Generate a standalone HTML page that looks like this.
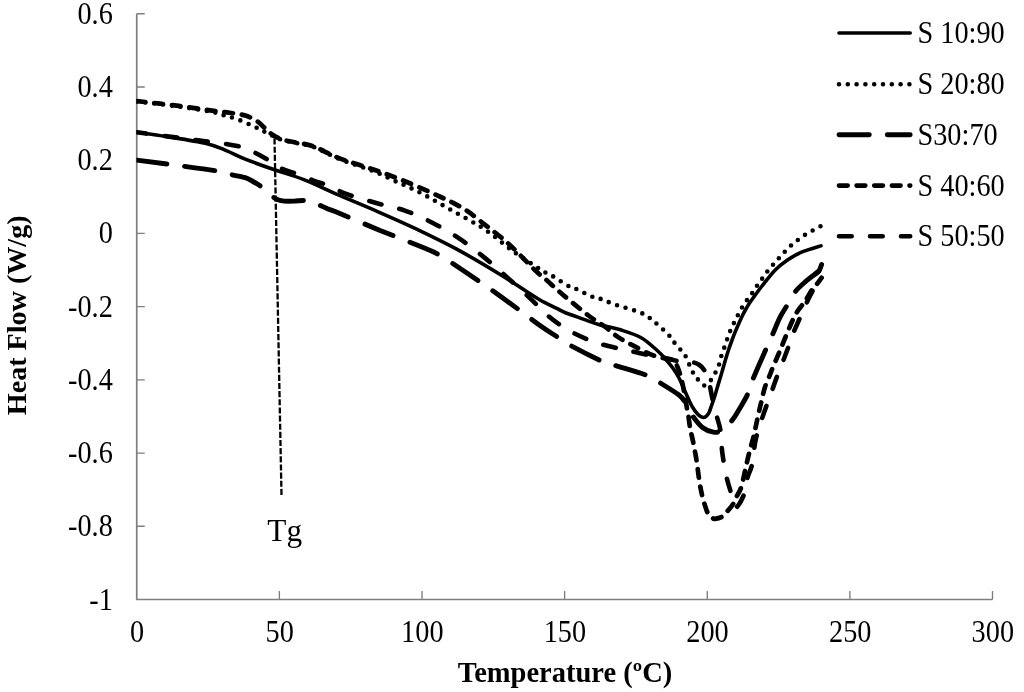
<!DOCTYPE html>
<html lang="en"><head><meta charset="utf-8"><title>DSC thermograms</title>
<style>html,body{margin:0;padding:0;background:#fff}body{width:1024px;height:692px;overflow:hidden}svg{display:block}</style>
</head><body>
<svg width="1024" height="692" viewBox="0 0 1024 692">
<rect width="1024" height="692" fill="#fff"/>
<g stroke="#7f7f7f" fill="none">
<path d="M136.75 13.74V599.5H992.50" stroke-width="1.7"/>
<path d="M136.75 526.28h8M136.75 453.06h8M136.75 379.84h8M136.75 306.62h8M136.75 233.40h8M136.75 160.18h8M136.75 86.96h8M136.75 13.74h8M279.38 599.5v-8.5M422.00 599.5v-8.5M564.62 599.5v-8.5M707.25 599.5v-8.5M849.88 599.5v-8.5M992.50 599.5v-8.5" stroke-width="1.35"/>
</g>
<clipPath id="pa"><rect x="136.4" y="10" width="700" height="589"/></clipPath>
<g fill="none" stroke="#000" stroke-linecap="round" stroke-linejoin="round" clip-path="url(#pa)">
<path id="cB" d="M136.8 101.6C143.2 102.3 162.7 104.3 174.9 106.0C187.1 107.7 201.9 110.0 210.0 111.5C218.1 113.0 218.8 113.8 223.7 115.2C228.6 116.6 234.1 118.0 239.3 120.0C244.5 122.0 250.8 124.9 255.0 126.9C259.2 128.9 261.8 130.3 264.7 131.8C267.6 133.2 269.6 134.3 272.5 135.7C275.4 137.1 278.4 138.8 282.3 140.0C286.2 141.2 290.8 141.8 296.0 143.0C301.2 144.2 306.3 144.4 313.5 147.0C320.7 149.6 328.9 154.7 339.0 158.8C349.1 162.9 365.1 167.9 374.2 171.5C383.3 175.1 387.9 177.8 393.8 180.5C399.6 183.2 404.2 185.0 409.4 187.4C414.6 189.8 419.8 192.4 425.0 195.2C430.2 198.0 435.4 201.1 440.6 204.0C445.8 206.9 451.0 209.9 456.2 212.8C461.5 215.7 466.7 218.5 471.9 221.6C477.1 224.7 480.5 226.3 487.5 231.3C494.5 236.3 505.5 245.7 513.8 251.8C522.0 257.8 532.2 264.1 537.2 267.4C542.2 270.7 541.3 270.2 543.9 271.7C546.5 273.2 548.9 273.9 552.8 276.2C556.7 278.5 563.4 283.3 567.3 285.4C571.2 287.5 572.3 287.1 576.2 288.9C580.2 290.7 586.9 294.5 590.8 296.1C594.7 297.7 595.5 297.1 599.7 298.6C603.9 300.1 609.2 302.5 616.2 304.9C623.2 307.3 635.1 310.2 641.6 313.1C648.1 316.0 650.7 318.8 655.2 322.5C659.8 326.2 665.8 332.0 668.9 335.2C672.0 338.4 671.6 339.2 673.6 341.6C675.6 344.0 678.7 347.5 680.6 349.8C682.5 352.1 683.3 352.0 685.3 355.6C687.2 359.2 690.3 367.5 692.3 371.2C694.2 375.0 695.0 375.9 697.0 378.3C699.0 380.7 701.8 385.0 704.0 385.4C706.2 385.8 708.6 382.7 710.5 380.6C712.4 378.5 713.8 375.6 715.3 372.8C716.8 370.1 718.2 366.9 719.2 364.1C720.2 361.4 720.4 359.0 721.2 356.3C722.0 353.6 723.1 350.9 724.1 348.1C725.1 345.3 726.0 342.5 727.0 339.7C728.0 336.9 728.9 334.3 730.0 331.5C731.1 328.7 732.6 325.8 733.9 323.1C735.2 320.4 736.4 318.0 737.8 315.3C739.2 312.6 740.6 309.9 742.2 307.2C743.8 304.5 745.8 301.8 747.5 299.4C749.2 297.0 750.8 295.2 752.4 292.9C754.0 290.6 755.4 288.2 757.0 285.8C758.6 283.4 760.5 281.0 762.2 278.6C763.9 276.2 764.4 275.1 767.2 271.7C770.0 268.3 775.0 262.4 778.9 258.1C782.8 253.8 786.3 249.8 790.6 245.9C794.9 242.1 799.8 238.2 804.7 235.0C809.7 231.8 817.5 227.9 820.3 226.4C823.1 224.9 821.2 226.0 821.4 225.9" stroke-width="4.6" stroke-dasharray="0 8.8"/>
<path id="cE" d="M136.8 160.1C141.8 160.8 153.8 162.2 167.0 164.0C180.2 165.8 205.2 169.0 215.9 170.8C226.7 172.6 226.6 173.5 231.5 174.7C236.4 175.8 241.6 176.6 245.2 177.7C248.8 178.8 250.4 180.1 253.0 181.5C255.6 182.9 258.5 184.7 260.8 186.4C263.1 188.2 264.9 190.2 267.0 192.0C269.1 193.8 271.7 195.9 273.5 197.2C275.3 198.5 276.2 199.2 278.0 199.8C279.8 200.5 281.6 200.9 284.3 201.1C287.0 201.3 290.6 201.2 294.0 201.1C297.4 201.0 301.8 200.3 304.8 200.5C307.8 200.7 309.6 201.2 312.0 202.0C314.4 202.8 316.7 203.8 319.4 205.0C322.1 206.2 325.4 207.8 328.0 208.9C330.6 210.0 326.5 208.0 335.2 211.6C343.9 215.2 365.1 224.3 380.1 230.4C395.1 236.5 415.1 244.2 425.0 248.3C434.9 252.4 432.5 251.1 439.5 255.2C446.5 259.3 455.8 265.5 466.9 273.0C478.0 280.5 493.7 291.4 505.9 300.2C518.1 308.9 531.4 319.4 540.0 325.5C548.6 331.6 552.4 333.7 557.6 337.1C562.8 340.5 564.1 342.0 571.2 345.9C578.4 349.8 593.2 357.3 600.5 360.6C607.8 363.9 607.6 363.1 615.2 365.5C622.9 367.9 638.9 372.3 646.4 375.2C653.9 378.1 654.9 379.7 660.3 383.0C665.7 386.3 674.5 391.6 678.7 394.8C682.9 398.1 682.9 398.9 685.3 402.5C687.7 406.1 690.2 412.4 693.1 416.6C696.0 420.8 699.1 424.9 702.5 427.5C705.9 430.1 710.4 431.7 713.4 432.2C716.4 432.7 717.5 432.4 720.5 430.6C723.5 428.8 728.1 425.0 731.4 421.2C734.6 417.5 737.3 412.6 740.0 408.0C742.7 403.4 745.6 398.8 747.8 393.9C750.0 388.9 750.2 385.8 753.3 378.3C756.3 370.8 762.8 356.4 766.1 348.9C769.4 341.4 770.8 338.5 773.1 333.3C775.4 328.1 777.4 322.5 779.7 317.8C782.1 313.1 784.5 309.6 787.2 305.2C789.9 300.8 792.6 295.1 795.8 291.1C799.0 287.1 802.7 284.1 806.2 281.0C809.8 277.9 815.0 274.3 817.2 272.5C819.4 270.7 818.8 271.5 819.5 270.2C820.2 268.9 821.2 265.6 821.5 264.7" stroke-width="4.9" stroke-dasharray="30.3 18"/>
<path id="cD" d="M136.8 132.3C141.8 133.0 158.1 135.2 167.0 136.3C175.9 137.5 184.0 138.4 190.0 139.2C196.0 140.0 198.2 140.4 203.2 141.0C208.2 141.6 214.8 142.2 220.0 143.0C225.2 143.8 230.2 144.7 234.4 145.5C238.6 146.3 241.4 146.7 245.0 148.0C248.6 149.3 253.0 151.7 256.0 153.2C259.0 154.7 260.6 155.6 263.0 157.0C265.4 158.4 267.4 159.5 270.6 161.5C273.8 163.5 278.1 166.9 282.3 168.9C286.5 170.9 290.8 171.8 296.0 173.8C301.2 175.7 308.2 178.6 313.5 180.6C318.8 182.6 322.4 183.2 328.0 185.5C333.6 187.8 338.9 191.3 346.9 194.2C354.9 197.1 366.4 200.2 376.2 203.0C386.0 205.8 395.9 207.4 405.5 210.8C415.1 214.2 424.7 218.8 433.8 223.5C442.9 228.2 451.8 233.4 460.2 239.1C468.6 244.8 476.7 251.3 484.5 257.6C492.3 263.9 499.2 270.3 506.9 277.1C514.5 283.9 523.8 292.3 530.4 298.6C537.0 304.9 541.9 310.4 546.8 314.7C551.6 319.0 555.3 321.6 559.5 324.5C563.7 327.4 567.6 329.9 572.2 332.3C576.8 334.7 582.2 337.2 586.9 339.1C591.6 341.1 595.6 342.5 600.5 344.0C605.4 345.5 611.3 346.8 616.2 347.9C621.1 349.0 624.8 349.7 629.8 350.8C634.8 351.9 641.5 353.7 646.4 354.7C651.3 355.7 654.2 355.7 659.1 356.7C664.0 357.7 671.9 359.6 675.7 360.6C679.5 361.6 680.1 362.1 682.0 362.5C683.9 362.9 685.2 363.2 687.0 363.2C688.8 363.2 690.9 362.1 693.0 362.4C695.1 362.7 697.6 363.8 699.4 365.0C701.2 366.2 702.7 367.7 704.0 369.7C705.3 371.7 706.1 374.5 707.0 377.0C707.9 379.5 708.5 380.7 709.5 384.5C710.5 388.3 711.5 394.8 712.7 400.0C713.9 405.2 715.3 410.7 716.6 415.8C717.9 420.9 719.5 424.4 720.5 430.6C721.5 436.8 721.3 445.2 722.3 452.8C723.3 460.4 725.1 470.0 726.4 476.2C727.7 482.5 728.9 485.5 730.3 490.3C731.7 495.1 733.7 502.6 735.0 505.2C736.3 507.8 736.5 507.6 738.1 505.6C739.7 503.6 742.8 498.0 744.4 493.4C746.0 488.8 746.2 482.7 747.5 477.8C748.8 472.9 750.9 470.1 752.2 463.8C753.6 457.4 754.0 447.5 755.6 440.0C757.2 432.5 759.9 425.2 761.9 419.0C763.9 412.8 765.7 408.1 767.5 403.0C769.3 397.9 771.1 393.0 772.8 388.4C774.5 383.8 775.7 379.9 777.5 375.2C779.3 370.5 781.6 364.8 783.5 360.0C785.4 355.2 786.8 351.2 788.6 346.4C790.4 341.5 792.4 335.6 794.2 330.9C796.1 326.2 798.1 322.1 799.7 318.4C801.3 314.7 802.6 311.6 804.0 308.5C805.4 305.4 806.6 302.9 808.0 300.0C809.4 297.1 811.0 293.6 812.5 291.0C814.0 288.4 815.5 286.6 817.0 284.5C818.5 282.4 821.0 279.5 821.8 278.5" stroke-width="4.6" stroke-dasharray="12.7 18.3" stroke-dashoffset="3.0"/>
<path id="cA" d="M136.8 101.1C143.2 101.8 162.7 103.9 174.9 105.4C187.1 106.9 200.9 109.1 210.0 110.3C219.1 111.5 223.7 111.9 229.6 112.8C235.5 113.7 240.6 114.1 245.2 115.5C249.8 116.9 253.6 118.9 256.9 121.0C260.1 123.1 262.1 125.6 264.7 127.9C267.3 130.2 269.6 132.8 272.5 134.7C275.4 136.6 278.4 138.3 282.3 139.6C286.2 140.9 290.8 141.4 296.0 142.5C301.2 143.6 306.3 143.8 313.5 146.4C320.7 149.0 328.9 154.2 339.0 158.1C349.1 162.0 363.1 165.9 374.2 169.8C385.3 173.7 395.1 177.3 405.5 181.5C415.9 185.7 428.8 191.6 436.7 195.2C444.6 198.8 448.0 200.2 453.2 202.9C458.4 205.6 463.1 208.2 468.0 211.5C472.9 214.8 477.9 219.2 482.5 222.8C487.1 226.4 490.8 229.1 495.3 232.8C499.9 236.5 503.1 238.7 509.8 244.9C516.5 251.2 529.2 264.5 535.2 270.3C541.2 276.1 541.4 275.6 545.9 279.5C550.4 283.4 554.9 288.0 562.0 294.0C569.1 300.0 581.3 310.1 588.4 315.5C595.5 320.9 599.5 322.8 604.5 326.4C609.5 330.0 613.2 333.9 618.1 337.1C623.0 340.4 628.5 343.1 633.8 345.9C639.0 348.7 645.2 351.9 649.4 353.8C653.6 355.6 655.8 356.4 658.8 357.2C661.7 358.0 664.5 358.1 667.0 358.7C669.5 359.2 672.2 359.1 674.0 360.5C675.8 361.9 676.4 364.4 677.5 367.0C678.6 369.6 679.7 372.8 680.6 376.0C681.5 379.2 682.2 382.2 683.0 386.0C683.8 389.8 684.6 394.9 685.3 398.6C685.9 402.3 686.4 405.1 686.9 408.0C687.4 410.9 687.9 412.6 688.4 415.8C688.9 419.1 689.5 424.6 690.0 427.5C690.5 430.4 690.6 430.5 691.2 433.3C691.9 436.1 692.7 439.5 693.6 444.2C694.5 448.9 695.8 455.7 696.7 461.4C697.6 467.1 698.1 472.9 699.0 478.6C699.9 484.3 700.8 490.1 702.2 495.8C703.7 501.5 706.0 509.4 707.7 513.0C709.4 516.6 711.1 516.7 712.3 517.7C713.5 518.7 713.1 518.9 714.7 518.8C716.3 518.6 719.6 518.1 721.7 516.9C723.8 515.7 725.2 513.6 727.2 511.4C729.2 509.2 731.8 506.1 733.4 503.6C735.0 501.1 735.3 499.3 736.6 496.6C737.9 493.9 739.8 491.6 741.2 487.2C742.7 482.8 743.9 475.6 745.2 470.0C746.5 464.4 747.6 459.3 749.0 453.6C750.4 447.9 752.4 441.4 753.8 435.6C755.1 429.8 756.2 424.4 757.4 419.0C758.6 413.6 759.7 408.3 761.0 403.0C762.3 397.7 763.5 391.7 765.0 387.0C766.5 382.3 768.8 377.8 770.0 374.7C771.2 371.6 770.9 372.0 772.5 368.2C774.1 364.4 777.2 357.2 779.4 352.0C781.6 346.8 783.3 342.3 785.5 337.0C787.7 331.7 790.8 324.2 792.7 320.0C794.6 315.8 795.5 314.5 797.0 312.0C798.5 309.5 800.5 307.2 802.0 305.2C803.5 303.1 804.3 302.3 806.0 299.7C807.7 297.1 810.4 292.1 812.2 289.5C814.0 286.9 815.3 285.9 816.9 284.0C818.5 282.1 820.8 278.8 821.6 277.8" stroke-width="4.7" stroke-dasharray="8.66 8.97"/>
<path id="cC" d="M136.8 132.3C141.8 133.0 155.4 134.7 167.0 136.6C178.6 138.5 196.3 141.2 206.1 143.5C215.9 145.8 219.2 147.7 225.7 150.3C232.2 152.9 237.1 155.8 245.2 159.1C253.3 162.3 264.7 166.4 274.5 169.8C284.3 173.2 293.1 175.4 303.8 179.6C314.6 183.8 326.6 189.8 339.0 195.2C351.4 200.6 365.1 206.1 378.1 211.8C391.1 217.5 404.2 223.2 417.2 229.4C430.2 235.6 442.8 241.6 456.2 248.9C469.7 256.2 486.6 266.2 498.1 273.2C509.6 280.2 518.5 286.3 525.5 290.8C532.5 295.3 534.8 297.1 540.0 300.0C545.2 302.9 552.5 306.3 556.7 308.4C560.9 310.5 560.5 310.8 565.4 312.7C570.3 314.6 580.5 318.1 586.0 320.1C591.5 322.1 592.6 322.8 598.6 324.5C604.6 326.2 614.8 328.1 622.0 330.3C629.2 332.6 635.7 334.6 641.6 338.0C647.5 341.4 653.3 347.1 657.2 350.5C661.1 353.9 662.4 355.6 665.0 358.5C667.6 361.4 670.5 364.8 672.8 368.0C675.1 371.2 676.9 374.0 679.0 378.0C681.1 382.0 683.2 387.4 685.3 392.0C687.4 396.6 689.5 401.9 691.6 405.6C693.7 409.3 695.8 412.2 697.8 414.2C699.8 416.2 702.0 417.6 703.8 417.5C705.6 417.4 707.2 415.4 708.5 413.5C709.8 411.6 710.4 408.8 711.4 406.0C712.4 403.2 713.5 400.1 714.5 397.0C715.5 393.9 716.3 390.7 717.3 387.5C718.2 384.3 719.2 381.2 720.2 378.0C721.2 374.8 722.1 371.3 723.1 368.0C724.1 364.7 725.0 361.2 726.0 358.0C727.0 354.8 728.0 351.4 729.0 348.5C730.0 345.6 730.9 343.1 731.9 340.5C732.9 337.9 733.7 335.6 734.8 332.9C735.9 330.1 737.3 326.9 738.6 324.0C739.9 321.1 741.3 318.0 742.6 315.3C743.9 312.6 745.2 310.3 746.5 308.0C747.8 305.7 748.4 304.5 750.4 301.7C752.4 298.9 756.3 293.6 758.2 291.0C760.1 288.4 759.2 289.5 762.0 286.0C764.8 282.5 770.8 274.5 775.0 270.2C779.2 265.9 783.1 263.0 787.5 260.0C791.9 257.0 796.0 254.5 801.6 252.2C807.2 249.8 817.8 246.9 821.0 245.9" stroke-width="3.6"/>
</g>
<path d="M815.5 273.8L819.3 270.6L821.6 264.6" fill="none" stroke="#000" stroke-width="4.9" stroke-linecap="round" stroke-linejoin="round"/>
<path d="M274.5 138.5L281.5 495" stroke="#000" stroke-width="2.3" stroke-dasharray="6.1 2.05" fill="none"/>
<g fill="none" stroke="#000" stroke-linecap="round">
<path d="M839 33H910.2" stroke-width="3.6"/>
<path d="M839 84.2H910.2" stroke-width="4.6" stroke-dasharray="0 8.8"/>
<path d="M839 134.7H910.2" stroke-width="4.9" stroke-dasharray="30.3 18"/>
<path d="M839 185.6H910.2" stroke-width="4.7" stroke-dasharray="8.66 8.97"/>
<path d="M839 236.2H910.2" stroke-width="4.6" stroke-dasharray="12.7 18.3"/>
</g>
<g font-family="'Liberation Serif', 'Times New Roman', serif" fill="#000">
<g font-size="28.3">
<text transform="translate(917.5 42.9) scale(1 1.1)" xml:space="preserve">S 10:90</text>
<text transform="translate(917.5 94.1) scale(1 1.1)" xml:space="preserve">S 20:80</text>
<text transform="translate(917.5 144.6) scale(1 1.1)" xml:space="preserve">S30:70</text>
<text transform="translate(917.5 195.5) scale(1 1.1)" xml:space="preserve">S 40:60</text>
<text transform="translate(917.5 246.1) scale(1 1.1)" xml:space="preserve">S 50:50</text>
<text transform="translate(112.8 609.5) scale(1 1.1)" text-anchor="end">-1</text>
<text transform="translate(112.8 536.3) scale(1 1.1)" text-anchor="end">-0.8</text>
<text transform="translate(112.8 463.1) scale(1 1.1)" text-anchor="end">-0.6</text>
<text transform="translate(112.8 389.8) scale(1 1.1)" text-anchor="end">-0.4</text>
<text transform="translate(112.8 316.6) scale(1 1.1)" text-anchor="end">-0.2</text>
<text transform="translate(112.8 243.4) scale(1 1.1)" text-anchor="end">0</text>
<text transform="translate(112.8 170.2) scale(1 1.1)" text-anchor="end">0.2</text>
<text transform="translate(112.8 97.0) scale(1 1.1)" text-anchor="end">0.4</text>
<text transform="translate(112.8 23.7) scale(1 1.1)" text-anchor="end">0.6</text>
<text transform="translate(137.1 642.1) scale(1 1.1)" text-anchor="middle">0</text>
<text transform="translate(279.7 642.1) scale(1 1.1)" text-anchor="middle">50</text>
<text transform="translate(422.3 642.1) scale(1 1.1)" text-anchor="middle">100</text>
<text transform="translate(564.9 642.1) scale(1 1.1)" text-anchor="middle">150</text>
<text transform="translate(707.5 642.1) scale(1 1.1)" text-anchor="middle">200</text>
<text transform="translate(850.2 642.1) scale(1 1.1)" text-anchor="middle">250</text>
<text transform="translate(992.8 642.1) scale(1 1.1)" text-anchor="middle">300</text>
</g>
<text x="267.3" y="540.5" font-size="31.3">Tg</text>
<text x="565" y="682.2" font-size="28.5" font-weight="bold" text-anchor="middle">Temperature (ºC)</text>
<text transform="translate(25.9 315.3) rotate(-90)" font-size="28.1" font-weight="bold" text-anchor="middle">Heat Flow (W/g)</text>
</g>
</svg>
</body></html>
